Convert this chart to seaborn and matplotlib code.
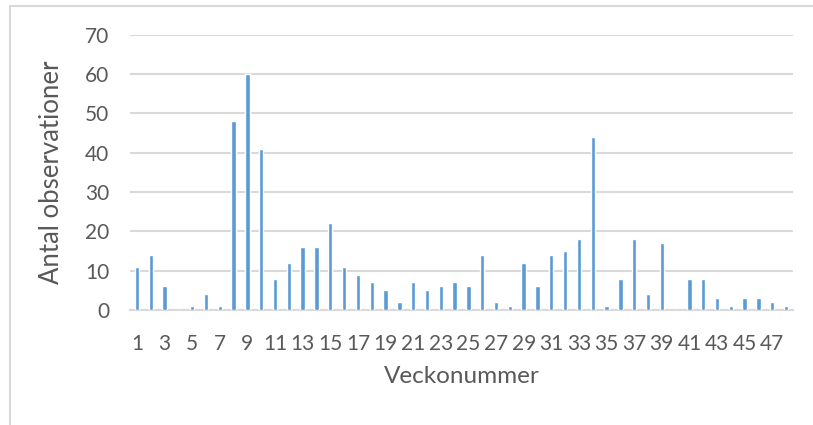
import matplotlib
matplotlib.use("Agg")
import matplotlib.pyplot as plt
from matplotlib.lines import Line2D
import seaborn as sns
import pandas as pd

weeks = list(range(1, 49))
counts = [11, 14, 6, 0, 1, 4, 1, 48, 60, 41, 8, 12, 16, 16, 22, 11, 9, 7, 5, 2,
          7, 5, 6, 7, 6, 14, 2, 1, 12, 6, 14, 15, 18, 44, 1, 8, 18, 4, 17, 0,
          8, 8, 3, 1, 3, 3, 2, 1]
y_ticks = [0, 10, 20, 30, 40, 50, 60, 70]
x_label = "Veckonummer"
y_label = "Antal observationer"

df = pd.DataFrame({"week": [str(w) for w in weeks], "count": counts})

sns.set_theme(style="white")
plt.rcParams["font.family"] = ["Lato", "DejaVu Sans"]

text_color = "#595959"
grid_color = "#D9D9D9"
bar_color = "#5B9BD5"

fig = plt.figure(figsize=(8.13, 4.25), dpi=100)
ax = fig.add_axes([130 / 813, 1 - 310 / 425, 663 / 813, (310 - 34.7) / 425])

sns.barplot(data=df, x="week", y="count", order=df["week"], color=bar_color,
            width=0.32, saturation=1, ax=ax, zorder=3)

ax.set_ylim(0, 70)
ax.set_xlim(-0.5, len(weeks) - 0.5)
ax.set_yticks(y_ticks)
ax.set_yticklabels([str(v) for v in y_ticks])
pos = list(range(0, len(weeks), 2))
ax.set_xticks(pos)
ax.set_xticklabels([str(weeks[p]) for p in pos])

ax.grid(axis="y", color=grid_color, linewidth=1.5, zorder=0)
ax.grid(axis="x", visible=False)
for s in ["top", "right", "left"]:
    ax.spines[s].set_visible(False)
ax.spines["bottom"].set_color(grid_color)
ax.spines["bottom"].set_linewidth(1.5)

ax.tick_params(axis="both", length=0, labelsize=15, colors=text_color)
ax.tick_params(axis="y", pad=15)
ax.tick_params(axis="x", pad=17)

ax.set_xlabel(x_label, fontsize=17.5, color=text_color)
ax.set_ylabel(y_label, fontsize=18.5, color=text_color)
ax.xaxis.set_label_coords(0.5, -0.205)
ax.yaxis.set_label_coords(-0.1, 0.5)

# chart frame (top & left)
fig.add_artist(Line2D([10 / 813, 1.0], [1 - 6 / 425, 1 - 6 / 425],
                      transform=fig.transFigure, color=grid_color, linewidth=1.5))
fig.add_artist(Line2D([10 / 813, 10 / 813], [0, 1 - 6 / 425],
                      transform=fig.transFigure, color=grid_color, linewidth=1.5))

fig.savefig("out.png", dpi=100)
